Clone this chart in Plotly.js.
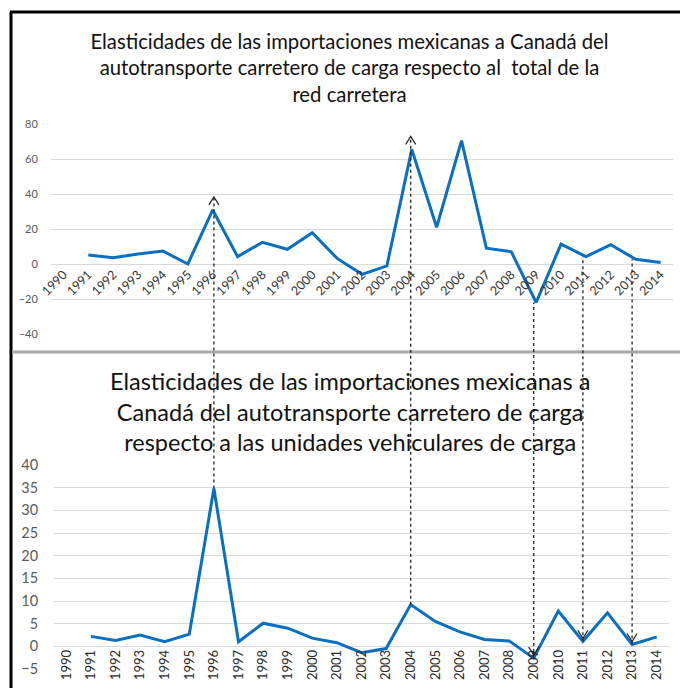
<!DOCTYPE html>
<html>
<head>
<meta charset="utf-8">
<script src="https://cdn.plot.ly/plotly-3.0.1.min.js"></script>
<style>
html,body{margin:0;padding:0;background:#ffffff;}
#chart{width:680px;height:688px;}
</style>
</head>
<body>
<div id="chart"></div>
<script>
// ---- Data ----
const years = [1990,1991,1992,1993,1994,1995,1996,1997,1998,1999,2000,2001,2002,2003,2004,2005,2006,2007,2008,2009,2010,2011,2012,2013,2014];
const yearLabels = years.map(String);
const elasticidadRed = [null,5.1,3.6,5.7,7.4,0.0,30.9,4.2,12.4,8.4,17.9,3.2,-5.9,-1.1,65.5,21.0,70.5,9.0,7.0,-22.0,11.4,4.2,11.0,2.7,0.8];
const elasticidadUnidades = [null,2.2,1.3,2.5,1.0,2.7,34.8,1.0,5.1,4.0,1.8,0.8,-1.4,-0.5,9.2,5.5,3.2,1.5,1.2,-2.6,7.8,1.1,7.4,0.4,2.1];
const linkedYears = [1996,2004,2009,2011,2013];
const arrowDirection = ['up','up','down','down','down'];
const upperTickVals = [-40,-20,0,20,40,60,80];
const lowerTickVals = [-5,0,5,10,15,20,25,30,35,40];
const titleUpper = 'Elasticidades de las importaciones mexicanas a Canadá del<br>autotransporte carretero de carga respecto al  total de la<br>red carretera';
const titleLower = 'Elasticidades de las importaciones mexicanas a<br>Canadá del autotransporte carretero de carga<br>respecto a las unidades vehiculares de carga';

// ---- Layout geometry ----
const W = 680, H = 688;
const domUpX = [51/W, 673/W];
const domUpY = [(H-334)/H, (H-124)/H];
const domLoX = [54/W, 669/W];
const domLoY = [(H-669)/H, (H-465)/H];
const rangeUp = [-40, 80];
const rangeLo = [-5, 40];
const xRange = [1989.5, 2014.5];
function paperY(v, rng, dom){ return dom[0] + (v - rng[0])/(rng[1]-rng[0])*(dom[1]-dom[0]); }

const lineColor = '#0a6fc0';
const gridColor = '#d9d9d9';
const font = 'Lato, "Open Sans", sans-serif';

const traces = [
  {x: years, y: elasticidadRed, type:'scatter', mode:'lines', xaxis:'x', yaxis:'y',
   line:{color: lineColor, width:3}, connectgaps:false, hoverinfo:'skip'},
  {x: years, y: elasticidadUnidades, type:'scatter', mode:'lines', xaxis:'x2', yaxis:'y2',
   line:{color: lineColor, width:3}, connectgaps:false, hoverinfo:'skip'}
];

const shapes = [
  // frame
  {type:'line', xref:'paper', yref:'paper', x0:10/W, x1:1, y0:(H-12)/H, y1:(H-12)/H, line:{color:'#000', width:3}},
  {type:'line', xref:'paper', yref:'paper', x0:11/W, x1:11/W, y0:0, y1:(H-12)/H, line:{color:'#000', width:3}},
  // separator
  {type:'line', xref:'paper', yref:'paper', x0:12/W, x1:1, y0:(H-352)/H, y1:(H-352)/H, line:{color:'#a6a6a6', width:3}}
];

linkedYears.forEach((yr, i) => {
  const idx = years.indexOf(yr);
  const yTop = paperY(elasticidadRed[idx], rangeUp, domUpY);
  const yBot = paperY(elasticidadUnidades[idx], rangeLo, domLoY);
  const up = arrowDirection[i] === 'up';
  const topEnd = up ? yTop + 13/H : yTop;
  const botEnd = yBot;
  shapes.push({type:'line', xref:'x2', yref:'paper', x0:yr, x1:yr, y0:botEnd, y1:topEnd,
               line:{color:'#222', width:1.3, dash:'dot'}});
  const tipY = up ? topEnd : botEnd + 3/H;
  shapes.push({type:'path', xref:'x2', xsizemode:'pixel', xanchor:yr,
               yref:'paper', ysizemode:'pixel', yanchor:tipY,
               path: up ? 'M-5,-8 L0,0 L5,-8' : 'M-5,8 L0,0 L5,8',
               line:{color:'#222', width:1.2}});
});

const layout = {
  width: W, height: H,
  margin:{l:0, r:0, t:0, b:0},
  paper_bgcolor:'#ffffff', plot_bgcolor:'rgba(0,0,0,0)',
  showlegend:false,
  font:{family: font, color:'#404040'},
  title:{text: titleUpper, x:0.514, xanchor:'center', y:(H-49)/H, yanchor:'middle',
         font:{family: font, size:20.3, color:'#111111'}},
  xaxis:{domain: domUpX, range: xRange, anchor:'free', position: paperY(0, rangeUp, domUpY),
         tickmode:'array', tickvals: years, ticktext: yearLabels, tickangle:-45,
         showgrid:false, zeroline:false, showline:false, ticks:'',
         tickfont:{size:12.5, color:'#333333'}},
  yaxis:{domain: domUpY, range: rangeUp, anchor:'x', tickmode:'array', tickvals: upperTickVals,
         showgrid:true, gridcolor: gridColor, gridwidth:1, zeroline:false, showline:false,
         ticks:'outside', ticklen:10, tickcolor:'rgba(0,0,0,0)',
         tickfont:{size:11, color:'#595959'}},
  xaxis2:{domain: domLoX, range: xRange, anchor:'free', position: paperY(0, rangeLo, domLoY),
          tickmode:'array', tickvals: years, ticktext: yearLabels, tickangle:-90,
          showgrid:false, zeroline:false, showline:false, ticks:'',
          tickfont:{size:13, color:'#2a2a2a'}},
  yaxis2:{domain: domLoY, range: rangeLo, anchor:'x2', tickmode:'array', tickvals: lowerTickVals,
          showgrid:true, gridcolor: gridColor, gridwidth:1, zeroline:false, showline:false,
          ticks:'outside', ticklen:12, tickcolor:'rgba(0,0,0,0)',
          tickfont:{size:14.5, color:'#595959'}},
  annotations:[
    {text: titleLower, xref:'paper', yref:'paper', x:0.515, y:(H-411)/H, xanchor:'center', yanchor:'middle',
     showarrow:false, font:{family: font, size:23.5, color:'#111111'}}
  ],
  shapes: shapes
};

Plotly.newPlot('chart', traces, layout, {staticPlot:true});
</script>
</body>
</html>
